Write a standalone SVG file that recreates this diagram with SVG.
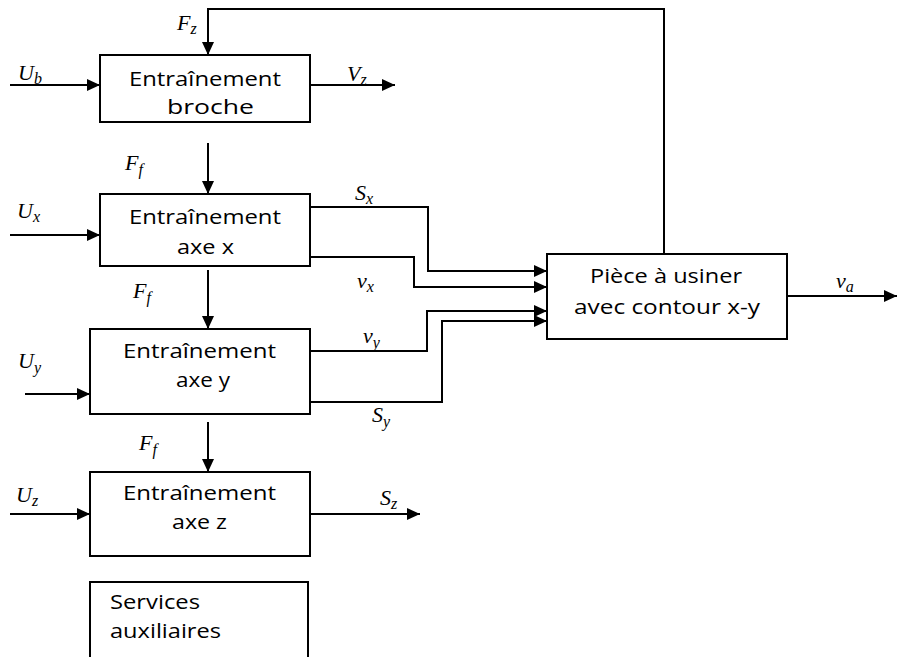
<svg xmlns="http://www.w3.org/2000/svg" width="897" height="657" viewBox="0 0 897 657">
<defs>
<marker id="ah" markerUnits="userSpaceOnUse" markerWidth="14" markerHeight="12" refX="13" refY="6" orient="auto">
<path d="M0,0 L13,6 L0,12 Z" fill="#000"/>
</marker>
<style>
.box{fill:#fff;stroke:#000;stroke-width:2}
.t{font-family:"Open Sans","Liberation Sans",sans-serif;font-size:20px;fill:#000}
.m{font-family:"Liberation Serif","DejaVu Serif",serif;font-style:italic;font-size:22px;fill:#000}
.s{font-size:16px}
.ln{fill:none;stroke:#000;stroke-width:2}
</style>
</defs>
<rect width="897" height="657" fill="#fff"/>
<g id="connectors">
<path class="ln" d="M664,254 V9 H208 V55" marker-end="url(#ah)"/>
<path class="ln" d="M10,85 H100" marker-end="url(#ah)"/>
<path class="ln" d="M310,85 H395" marker-end="url(#ah)"/>
<path class="ln" d="M208,143 V194" marker-end="url(#ah)"/>
<path class="ln" d="M10,235 H100" marker-end="url(#ah)"/>
<path class="ln" d="M208,270 V329" marker-end="url(#ah)"/>
<path class="ln" d="M25,394 H90" marker-end="url(#ah)"/>
<path class="ln" d="M208,422 V472" marker-end="url(#ah)"/>
<path class="ln" d="M10,514 H90" marker-end="url(#ah)"/>
<path class="ln" d="M310,514 H420" marker-end="url(#ah)"/>
<path class="ln" d="M310,207 H428 V271 H547" marker-end="url(#ah)"/>
<path class="ln" d="M308,257 H414 V287 H547" marker-end="url(#ah)"/>
<path class="ln" d="M310,351 H427 V311 H547" marker-end="url(#ah)"/>
<path class="ln" d="M310,402 H442 V321 H547" marker-end="url(#ah)"/>
<path class="ln" d="M787,296 H897" marker-end="url(#ah)"/>
</g>
<g id="labels">
<text class="m" x="177" y="30">F<tspan class="s" dy="4">z</tspan></text>
<text class="m" x="18" y="80">U<tspan class="s" dy="4">b</tspan></text>
<text class="m" x="347" y="81">V<tspan class="s" dy="4">z</tspan></text>
<text class="m" x="125" y="170">F<tspan class="s" dy="5">f</tspan></text>
<text class="m" x="17" y="218">U<tspan class="s" dy="4">x</tspan></text>
<text class="m" x="355" y="200">S<tspan class="s" dy="4">x</tspan></text>
<text class="m" x="357" y="288">v<tspan class="s" dy="4">x</tspan></text>
<text class="m" x="133" y="298">F<tspan class="s" dy="5">f</tspan></text>
<text class="m" x="363" y="343">v<tspan class="s" dy="5">y</tspan></text>
<text class="m" x="18" y="368">U<tspan class="s" dy="5">y</tspan></text>
<text class="m" x="372" y="422">S<tspan class="s" dy="5">y</tspan></text>
<text class="m" x="139" y="450">F<tspan class="s" dy="5">f</tspan></text>
<text class="m" x="16" y="502">U<tspan class="s" dy="4">z</tspan></text>
<text class="m" x="380" y="505">S<tspan class="s" dy="4">z</tspan></text>
<text class="m" x="836" y="288">v<tspan class="s" dy="4">a</tspan></text>
</g>
<g id="n-broche">
<rect class="box" x="100" y="55" width="210" height="67"/>
<text class="t" x="129" y="86" textLength="152" lengthAdjust="spacingAndGlyphs">Entraînement</text>
<text class="t" x="167" y="114" textLength="87" lengthAdjust="spacingAndGlyphs">broche</text>
</g>
<g id="n-axex">
<rect class="box" x="100" y="194" width="210" height="72"/>
<text class="t" x="129" y="224" textLength="152" lengthAdjust="spacingAndGlyphs">Entraînement</text>
<text class="t" x="177" y="254" textLength="57" lengthAdjust="spacingAndGlyphs">axe x</text>
</g>
<g id="n-axey">
<rect class="box" x="90" y="329" width="220" height="85"/>
<text class="t" x="123" y="358" textLength="153" lengthAdjust="spacingAndGlyphs">Entraînement</text>
<text class="t" x="176" y="387" textLength="54" lengthAdjust="spacingAndGlyphs">axe y</text>
</g>
<g id="n-axez">
<rect class="box" x="90" y="472" width="220" height="84"/>
<text class="t" x="123" y="500" textLength="153" lengthAdjust="spacingAndGlyphs">Entraînement</text>
<text class="t" x="172" y="529" textLength="55" lengthAdjust="spacingAndGlyphs">axe z</text>
</g>
<g id="n-services">
<rect class="box" x="90" y="582" width="218" height="90"/>
<text class="t" x="110" y="609" textLength="90" lengthAdjust="spacingAndGlyphs">Services</text>
<text class="t" x="110" y="638" textLength="111" lengthAdjust="spacingAndGlyphs">auxiliaires</text>
</g>
<g id="n-piece">
<rect class="box" x="547" y="254" width="240" height="85"/>
<text class="t" x="590" y="283" textLength="152" lengthAdjust="spacingAndGlyphs">Pièce à usiner</text>
<text class="t" x="574" y="314" textLength="186" lengthAdjust="spacingAndGlyphs">avec contour x-y</text>
</g>
</svg>
